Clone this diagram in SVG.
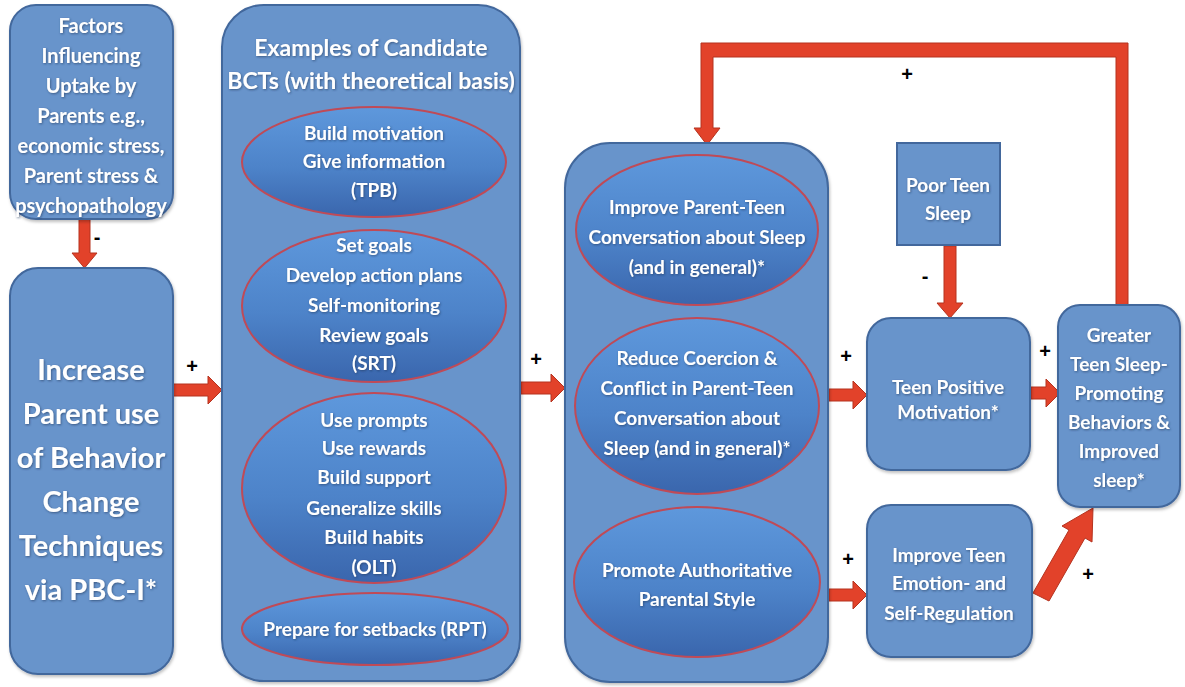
<svg xmlns="http://www.w3.org/2000/svg" width="1185" height="687" viewBox="0 0 1185 687">
<defs>
<linearGradient id="eg" x1="0" y1="0" x2="0" y2="1">
<stop offset="0" stop-color="#5e98dc"/>
<stop offset="0.55" stop-color="#4d83c9"/>
<stop offset="1" stop-color="#3a66ad"/>
</linearGradient>
<filter id="ts" x="-10%" y="-20%" width="120%" height="150%">
<feDropShadow dx="0.8" dy="1" stdDeviation="0.8" flood-color="#1d3557" flood-opacity="0.6"/>
</filter>
<filter id="bs" x="-5%" y="-5%" width="110%" height="110%">
<feDropShadow dx="1" dy="2" stdDeviation="1.5" flood-color="#000" flood-opacity="0.25"/>
</filter>
</defs>
<style>
.box{fill:#6894cb;stroke:#42679c;stroke-width:2;filter:url(#bs)}
.ell{fill:url(#eg);stroke:#bf4a57;stroke-width:2}
.t{font-family:Lato,"Liberation Sans",sans-serif;font-weight:bold;fill:#ffffff;text-anchor:middle;filter:url(#ts)}
.s19{font-size:19px}
.s20{font-size:20px}
.s22{font-size:23px}
.s28{font-size:29px}
.lbl{font-family:"Liberation Sans",Arial,sans-serif;font-weight:bold;font-size:20px;fill:#000;text-anchor:middle}
.arr{fill:#e2422a;stroke:#b5331f;stroke-width:1}
</style>
<rect width="1185" height="687" fill="#ffffff"/>

<g id="connectors">
<polygon class="arr" points="79,219 90,219 90,253 97,253 84.5,268 72,253 79,253"/>
<polygon class="arr" points="173,384 208,384 208,376 222,390 208,404 208,396 173,396"/>
<polygon class="arr" points="521,382 551,382 551,374 565,388 551,402 551,394 521,394"/>
<polygon class="arr" points="829,389 853,389 853,381 867,395 853,409 853,401 829,401"/>
<polygon class="arr" points="1031,387 1046,387 1046,379 1060,393 1046,407 1046,399 1031,399"/>
<polygon class="arr" points="829,589 853,589 853,581 867,595 853,609 853,601 829,601"/>
<polygon class="arr" points="944,246 956,246 956,303 963,303 950,318 937,303 944,303"/>
<polygon class="arr" points="1033,593 1069,530 1062,526 1093,508 1092,542 1085,538 1049,601"/>
<polygon class="arr" points="1116,305 1116,57 713,57 713,128 720,128 707,145 694,128 701,128 701,43 1128,43 1128,305"/>
<text class="lbl" x="97" y="244">-</text>
<text class="lbl" x="192" y="373">+</text>
<text class="lbl" x="536" y="366">+</text>
<text class="lbl" x="846" y="363">+</text>
<text class="lbl" x="1045" y="358">+</text>
<text class="lbl" x="848" y="566">+</text>
<text class="lbl" x="1088" y="581">+</text>
<text class="lbl" x="907" y="81">+</text>
<text class="lbl" x="925" y="283">-</text>
</g>

<g id="factors">
<rect class="box" x="10" y="5" width="163" height="214" rx="26"/>
<text class="t s20" x="91" y="33">Factors</text>
<text class="t s20" x="91" y="63">Influencing</text>
<text class="t s20" x="91" y="93">Uptake by</text>
<text class="t s20" x="91" y="123">Parents e.g.,</text>
<text class="t s20" x="91" y="153">economic stress,</text>
<text class="t s20" x="91" y="183">Parent stress &amp;</text>
<text class="t s20" x="91" y="213">psychopathology</text>
</g>

<g id="increase">
<rect class="box" x="10" y="268" width="163" height="406" rx="28"/>
<text class="t s28" x="91" y="380">Increase</text>
<text class="t s28" x="91" y="424">Parent use</text>
<text class="t s28" x="91" y="468">of Behavior</text>
<text class="t s28" x="91" y="512">Change</text>
<text class="t s28" x="91" y="556">Techniques</text>
<text class="t s28" x="91" y="600">via PBC-I*</text>
</g>

<g id="examples">
<rect class="box" x="222" y="5" width="298" height="676" rx="42"/>
<text class="t s22" x="371" y="56">Examples of Candidate</text>
<text class="t s22" x="371" y="89">BCTs (with theoretical basis)</text>
<g id="tpb">
<ellipse class="ell" cx="374" cy="162" rx="132" ry="55"/>
<text class="t s19" x="374" y="140">Build motivation</text>
<text class="t s19" x="374" y="168">Give information</text>
<text class="t s19" x="374" y="197">(TPB)</text>
</g>
<g id="srt">
<ellipse class="ell" cx="374" cy="306" rx="132" ry="76"/>
<text class="t s19" x="374" y="252">Set goals</text>
<text class="t s19" x="374" y="282">Develop action plans</text>
<text class="t s19" x="374" y="312">Self-monitoring</text>
<text class="t s19" x="374" y="342">Review goals</text>
<text class="t s19" x="374" y="370">(SRT)</text>
</g>
<g id="olt">
<ellipse class="ell" cx="374" cy="488" rx="132" ry="95"/>
<text class="t s19" x="374" y="427">Use prompts</text>
<text class="t s19" x="374" y="455">Use rewards</text>
<text class="t s19" x="374" y="484">Build support</text>
<text class="t s19" x="374" y="515">Generalize skills</text>
<text class="t s19" x="374" y="544">Build habits</text>
<text class="t s19" x="374" y="574">(OLT)</text>
</g>
<g id="rpt">
<ellipse class="ell" cx="375" cy="629" rx="133" ry="36"/>
<text class="t s19" x="375" y="636">Prepare for setbacks (RPT)</text>
</g>
</g>

<g id="mediators">
<rect class="box" x="565" y="143" width="263" height="539" rx="45"/>
<g id="conversation">
<ellipse class="ell" cx="697" cy="230" rx="121" ry="75"/>
<text class="t s19" x="697" y="214">Improve Parent-Teen</text>
<text class="t s19" x="697" y="244">Conversation about Sleep</text>
<text class="t s19" x="697" y="274">(and in general)*</text>
</g>
<g id="coercion">
<ellipse class="ell" cx="697" cy="406" rx="122" ry="88"/>
<text class="t s19" x="697" y="365">Reduce Coercion &amp;</text>
<text class="t s19" x="697" y="395">Conflict in Parent-Teen</text>
<text class="t s19" x="697" y="425">Conversation about</text>
<text class="t s19" x="697" y="455">Sleep (and in general)*</text>
</g>
<g id="authoritative">
<ellipse class="ell" cx="697" cy="582" rx="123" ry="75"/>
<text class="t s19" x="697" y="577">Promote Authoritative</text>
<text class="t s19" x="697" y="606">Parental Style</text>
</g>
</g>

<g id="poor-sleep">
<rect class="box" x="897" y="143" width="103" height="102" style="filter:none"/>
<text class="t s19" x="948" y="192">Poor Teen</text>
<text class="t s19" x="948" y="220">Sleep</text>
</g>

<g id="teen-motivation">
<rect class="box" x="867" y="318" width="163" height="152" rx="24"/>
<text class="t s19" x="948" y="394">Teen Positive</text>
<text class="t s19" x="948" y="419">Motivation*</text>
</g>

<g id="greater-sleep">
<rect class="box" x="1058" y="305" width="122" height="202" rx="22"/>
<text class="t s19" x="1119" y="342">Greater</text>
<text class="t s19" x="1119" y="371">Teen Sleep-</text>
<text class="t s19" x="1119" y="400">Promoting</text>
<text class="t s19" x="1119" y="429">Behaviors &amp;</text>
<text class="t s19" x="1119" y="458">Improved</text>
<text class="t s19" x="1119" y="487">sleep*</text>
</g>

<g id="emotion">
<rect class="box" x="867" y="505" width="165" height="152" rx="24"/>
<text class="t s19" x="949" y="562">Improve Teen</text>
<text class="t s19" x="949" y="590">Emotion- and</text>
<text class="t s19" x="949" y="620">Self-Regulation</text>
</g>
</svg>
